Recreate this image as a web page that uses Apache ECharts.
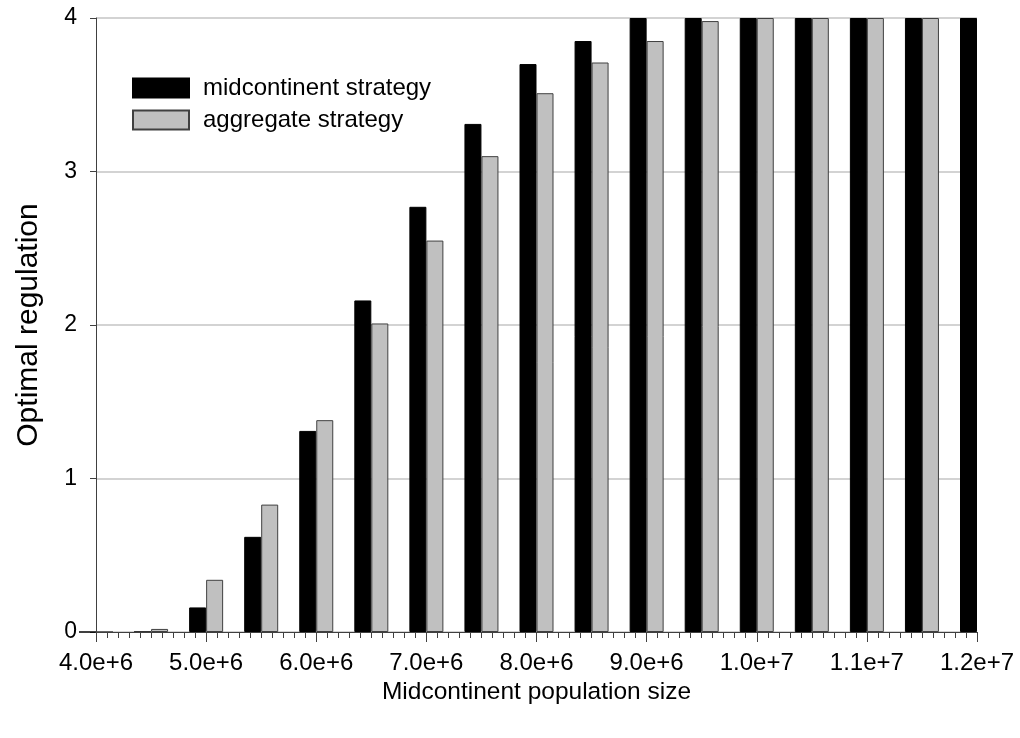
<!DOCTYPE html>
<html>
<head>
<meta charset="utf-8">
<title>Optimal regulation vs midcontinent population size</title>
<script src="https://cdn.jsdelivr.net/npm/echarts@6/dist/echarts.min.js"></script>
<style>
  html, body { margin: 0; padding: 0; background: #fff; }
  #chart { width: 1020px; height: 738px; }
</style>
</head>
<body>
<div id="chart"></div>
<script>
// Midcontinent population sizes (x positions of each bar pair)
const populationSizes = [
  4.0e6, 4.5e6, 5.0e6, 5.5e6, 6.0e6, 6.5e6, 7.0e6, 7.5e6, 8.0e6,
  8.5e6, 9.0e6, 9.5e6, 1.0e7, 1.05e7, 1.1e7, 1.15e7, 1.2e7
];

// Optimal regulation under each strategy (null: no bar inside the plot)
const midcontinentStrategy = [
  0, 0, 0.16, 0.62, 1.31, 2.16, 2.77, 3.31, 3.70,
  3.85, 4, 4, 4, 4, 4, 4, 4
];
const aggregateStrategy = [
  0, 0.02, 0.34, 0.83, 1.38, 2.01, 2.55, 3.10, 3.51,
  3.71, 3.85, 3.98, 4, 4, 4, 4, null
];

// Axis ranges and tick steps
const xRange = [4.0e6, 1.2e7];
const xStep = 1.0e6;
const yRange = [0, 4];
const yStep = 1;

const seriesNames = ['midcontinent strategy', 'aggregate strategy'];
const axisTitles = { x: 'Midcontinent population size', y: 'Optimal regulation' };

const FONT = '"Liberation Sans", Arial, sans-serif';
const AXIS_COLOR = '#404040';

const pairs = (ys) => populationSizes.map((x, i) => [x, ys[i]]);

const chart = echarts.init(document.getElementById('chart'), null, { renderer: 'canvas' });

chart.setOption({
  animation: false,
  backgroundColor: '#ffffff',
  textStyle: { fontFamily: FONT, color: '#000' },
  grid: { left: 96, right: 43, top: 18, bottom: 106, containLabel: false },
  legend: {
    orient: 'vertical',
    left: 127,
    top: 71,
    icon: 'rect',
    itemWidth: 56,
    itemHeight: 19,
    itemGap: 8,
    selectedMode: false,
    textStyle: { fontFamily: FONT, fontSize: 24, color: '#000', lineHeight: 19, padding: [0, 0, 0, 9] },
    data: seriesNames
  },
  xAxis: [
    {
      type: 'value',
      min: xRange[0],
      max: xRange[1],
      interval: xStep,
      name: axisTitles.x,
      nameLocation: 'middle',
      nameGap: 43,
      nameTextStyle: { fontFamily: FONT, fontSize: 24.5, color: '#000' },
      axisLine: { show: true, onZero: false, lineStyle: { color: AXIS_COLOR, width: 1 } },
      axisTick: { show: true, length: 10, inside: false, lineStyle: { color: AXIS_COLOR } },
      minorTick: { show: true, splitNumber: 10, length: 6, lineStyle: { color: AXIS_COLOR } },
      axisLabel: {
        fontFamily: FONT, fontSize: 24, color: '#000', margin: 19,
        formatter: (v) => v.toExponential(1)
      },
      splitLine: { show: false }
    },
    {
      // top frame line of the plot
      type: 'value',
      position: 'top',
      min: xRange[0],
      max: xRange[1],
      z: 5,
      axisLine: { show: true, lineStyle: { color: AXIS_COLOR, width: 1 } },
      axisTick: { show: false },
      axisLabel: { show: false },
      splitLine: { show: false }
    }
  ],
  yAxis: {
    type: 'value',
    min: yRange[0],
    max: yRange[1],
    interval: yStep,
    name: axisTitles.y,
    nameLocation: 'middle',
    nameRotate: 90,
    nameGap: 52,
    nameTextStyle: { fontFamily: FONT, fontSize: 30, color: '#000' },
    axisLine: { show: true, lineStyle: { color: AXIS_COLOR, width: 1 } },
    axisTick: { show: true, length: 6, lineStyle: { color: AXIS_COLOR } },
    axisLabel: { fontFamily: FONT, fontSize: 23, color: '#000', margin: 19 },
    splitLine: { show: true, lineStyle: { color: '#c4c4c4', width: 1.5 } }
  },
  series: [
    {
      name: seriesNames[0],
      type: 'bar',
      xAxisIndex: 0,
      data: pairs(midcontinentStrategy),
      barWidth: 17,
      barGap: '0%',
      clip: true,
      itemStyle: { color: '#000000', borderColor: '#000000', borderWidth: 1 }
    },
    {
      name: seriesNames[1],
      type: 'bar',
      xAxisIndex: 0,
      data: pairs(aggregateStrategy),
      barWidth: 17,
      barGap: '0%',
      clip: true,
      itemStyle: { color: '#c0c0c0', borderColor: '#404040', borderWidth: 1 }
    }
  ]
});
</script>
</body>
</html>
